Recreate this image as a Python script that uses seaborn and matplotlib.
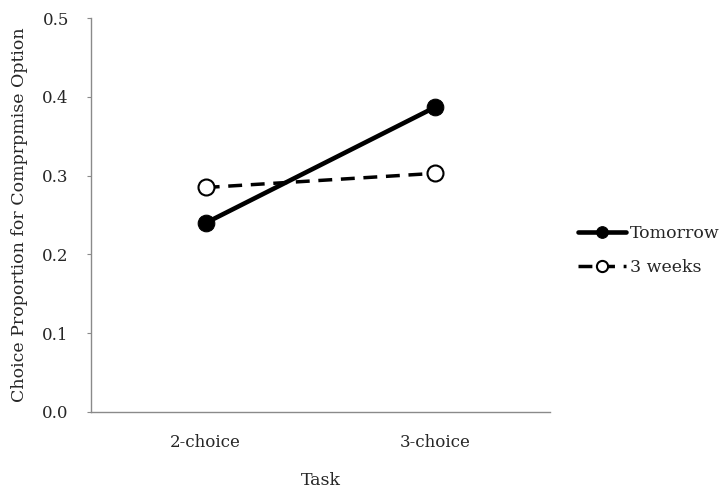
import numpy as np
import pandas as pd
import matplotlib
matplotlib.use('Agg')
import matplotlib.pyplot as plt
import seaborn as sns

sns.set_style('white')
plt.rcParams['font.family'] = ['DejaVu Serif']

tasks = ['2-choice', '3-choice']
tomorrow = [0.240, 0.387]
three_weeks = [0.285, 0.303]

fig = plt.figure(figsize=(7.25, 4.91), dpi=100)
ax = fig.add_axes([0.1255, 0.161, 0.633, 0.802])

sns.lineplot(x=tasks, y=tomorrow, ax=ax, color='black', linewidth=3.3,
             marker='o', markersize=12, markerfacecolor='black',
             markeredgecolor='black', label='Tomorrow')
sns.lineplot(x=tasks, y=three_weeks, ax=ax, color='black', linewidth=2.5,
             linestyle=(0, (4, 2.5)), marker='o', markersize=11.5,
             markerfacecolor='white', markeredgecolor='black',
             markeredgewidth=1.5, label='3 weeks')

ax.set_xlim(-0.5, 1.5)
ax.set_ylim(0, 0.5)
ax.set_yticks(np.arange(0, 0.51, 0.1))
ax.set_yticklabels([f'{v:.1f}' for v in np.arange(0, 0.51, 0.1)])

for side in ['top', 'right']:
    ax.spines[side].set_visible(False)
for side in ['left', 'bottom']:
    ax.spines[side].set_color('#8a8a8a')
    ax.spines[side].set_linewidth(1.0)

ax.tick_params(axis='y', length=3, width=0.8, color='#8a8a8a',
               left=True, pad=13, labelsize=12)
ax.tick_params(axis='x', length=0, pad=16, labelsize=12)

ax.set_xlabel('Task', fontsize=12.5, labelpad=15)
ax.set_ylabel('Choice Proportion for Comprpmise Option', fontsize=12.5,
              labelpad=10)

ax.legend(loc='center left', bbox_to_anchor=(1.045, 0.41), frameon=False,
          fontsize=12.5, handlelength=2.8, handletextpad=0.2,
          labelspacing=1.0, borderaxespad=0, markerscale=0.7)

fig.savefig('out.png', dpi=100)
